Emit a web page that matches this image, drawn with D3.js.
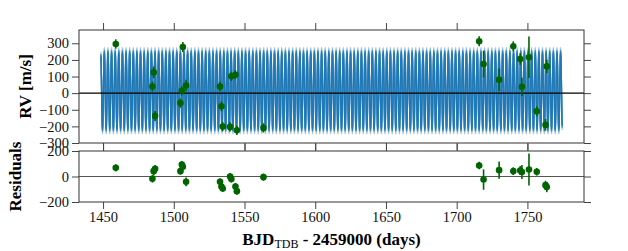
<!DOCTYPE html>
<html><head><meta charset="utf-8">
<script src="https://cdn.jsdelivr.net/npm/d3@7"></script>
<style>
html,body{margin:0;padding:0;background:#fff;}
text{font-family:"Liberation Serif","Times New Roman",serif;}
</style></head>
<body><svg id="c" width="628" height="251"></svg>
<script>
// ---- data ----
const rvTime = [1459.0,1484.9,1485.8,1486.8,1504.7,1505.7,1506.4,1508.7,1532.7,1533.7,1534.6,1539.8,1540.7,1543.6,1544.6,1563.4,1715.9,1719.0,1730.0,1740.0,1744.9,1746.1,1751.1,1756.6,1762.8,1763.7];
const rvValue = [296,40,125,-137,-60,14,278,46,40,-79,-201,-203,101,111,-224,-209,312,175,81,282,205,38,216,-109,-191,161];
const rvError = [28,30,35,30,28,28,30,35,28,30,28,28,28,28,28,28,30,80,68,30,35,55,125,30,35,40];
const residual = [68,-18,42,60,42,94,76,-42,-42,-78,-94,0,-20,-78,-115,-5,86,-24,50,42,47,35,55,37,-68,-83];
// model (circular orbit) parameters and posterior-draw amplitudes
const modelPeriod = 2.56, modelT0 = 1447.7, modelOffset = 14;
const modelK = [220, 230, 240, 256];
const modelSpan = [1448.5, 1774.6];
const xTicks = [1450,1500,1550,1600,1650,1700,1750];
const rvTicks = [-300,-200,-100,0,100,200,300];
const resTicks = [-200,0,200];
const xDomain = [1433, 1790], rvDomain = [-300, 380], resDomain = [-200, 200];

const svg = d3.select("#c");
const L = 79, R = 584;
const top1 = 30, bot1 = 143, top2 = 151, bot2 = 202;
const x = d3.scaleLinear().domain(xDomain).range([L, R]);
const y1 = d3.scaleLinear().domain(rvDomain).range([bot1, top1]);
const y2 = d3.scaleLinear().domain(resDomain).range([bot2, top2]);
const fmt = d => d < 0 ? "\u2212" + Math.abs(d) : String(d);
const TL = 7, tickCol = "#444", fs = "14.5px";

function frame(g, y, yt, t, b, labelX) {
  const ax = (a) => a.tickSizeOuter(0).tickSize(TL).tickPadding(3);
  const gb = g.append("g").attr("transform", `translate(0,${b})`).call(ax(d3.axisBottom(x).tickValues(xTicks).tickFormat(labelX ? d3.format("d") : "")));
  const gt = g.append("g").attr("transform", `translate(0,${t})`).call(ax(d3.axisTop(x).tickValues(xTicks).tickFormat("")));
  const gl = g.append("g").attr("transform", `translate(${L},0)`).call(ax(d3.axisLeft(y).tickValues(yt).tickFormat(fmt)));
  const gr = g.append("g").attr("transform", `translate(${R},0)`).call(ax(d3.axisRight(y).tickValues(yt).tickFormat("")));
  [gb, gt, gl, gr].forEach(a => {
    a.select(".domain").remove();
    a.selectAll("line").attr("stroke", tickCol).attr("stroke-width", 1);
    a.selectAll("text").attr("fill", "#111").style("font-size", fs).style("font-family", '"Liberation Serif",serif');
  });
  g.append("rect").attr("x", L).attr("y", t).attr("width", R - L).attr("height", b - t)
    .attr("fill", "none").attr("stroke", "#333").attr("stroke-width", 1);
}

// ---- top panel: model ----
const gTop = svg.append("g");
svg.append("clipPath").attr("id", "cp1").append("rect")
  .attr("x", L).attr("y", top1).attr("width", R - L).attr("height", bot1 - top1);
const line1 = d3.line().x(d => x(d[0])).y(d => y1(d[1]));
const step = 0.02;
const ts = d3.range(modelSpan[0], modelSpan[1], step);
const gModel = gTop.append("g").attr("clip-path", "url(#cp1)");
modelK.forEach((K, i) => {
  const pts = ts.map(t => [t, modelOffset + K * Math.sin(2 * Math.PI * (t - modelT0) / modelPeriod)]);
  gModel.append("path").attr("d", line1(pts)).attr("fill", "none")
    .attr("stroke", "#1f77b4").attr("stroke-width", 1.4).attr("stroke-opacity", i === modelK.length - 1 ? 0.4 : 0.75);
});
gTop.append("line").attr("x1", L).attr("x2", R).attr("y1", y1(0)).attr("y2", y1(0))
  .attr("stroke", "#000").attr("stroke-width", 1.2);
const green = "#006400";
rvTime.forEach((t, i) => {
  gTop.append("line").attr("x1", x(t)).attr("x2", x(t))
    .attr("y1", y1(rvValue[i] - rvError[i])).attr("y2", y1(rvValue[i] + rvError[i]))
    .attr("stroke", green).attr("stroke-width", 1.6);
  gTop.append("circle").attr("cx", x(t)).attr("cy", y1(rvValue[i])).attr("r", 3.3).attr("fill", green);
});
frame(gTop, y1, rvTicks, top1, bot1, false);

// ---- bottom panel: residuals ----
const gBot = svg.append("g");
gBot.append("line").attr("x1", L).attr("x2", R).attr("y1", y2(0)).attr("y2", y2(0))
  .attr("stroke", "#555").attr("stroke-width", 1.2);
rvTime.forEach((t, i) => {
  gBot.append("line").attr("x1", x(t)).attr("x2", x(t))
    .attr("y1", y2(residual[i] - rvError[i])).attr("y2", y2(residual[i] + rvError[i]))
    .attr("stroke", green).attr("stroke-width", 1.6);
  gBot.append("circle").attr("cx", x(t)).attr("cy", y2(residual[i])).attr("r", 3.3).attr("fill", green);
});
frame(gBot, y2, resTicks, top2, bot2, true);

// ---- labels ----
svg.append("text").attr("transform", `translate(31,${(top1 + bot1) / 2}) rotate(-90)`)
  .attr("text-anchor", "middle").style("font-size", "17px").style("font-weight", "bold").text("RV [m/s]");
svg.append("text").attr("transform", `translate(21,${(top2 + bot2) / 2}) rotate(-90)`)
  .attr("text-anchor", "middle").style("font-size", "17px").style("font-weight", "bold").text("Residuals");
const xl = svg.append("text").attr("x", (L + R) / 2).attr("y", 244.5).attr("text-anchor", "middle")
  .style("font-size", "17px").style("font-weight", "bold");
xl.append("tspan").text("BJD");
xl.append("tspan").attr("dy", 3).style("font-size", "12px").style("font-weight", "normal").text("TDB");
xl.append("tspan").attr("dy", -3).text(" - 2459000 (days)");
</script></body></html>
